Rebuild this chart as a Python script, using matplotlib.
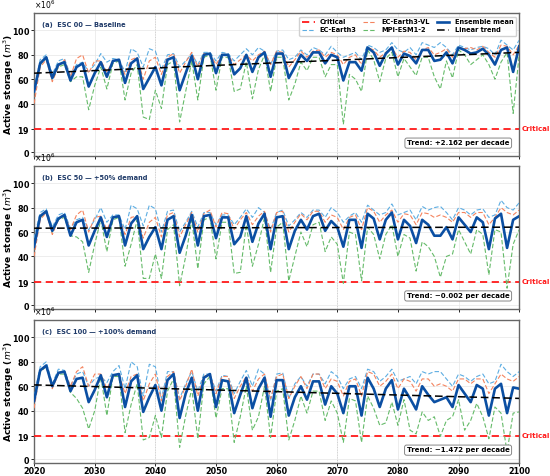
import numpy as np
import matplotlib
matplotlib.use("Agg")
import matplotlib.pyplot as plt
import matplotlib.transforms as mtransforms

years = np.arange(2020, 2101)
critical = 19  # x10^6 m3

# ---- (a) ESC 00 baseline ----
ens_a = [50, 73, 78, 61, 72, 74, 59, 70, 73, 54,
         65, 74, 62, 75, 76, 57, 73, 77, 52, 61,
         70, 55, 76, 78, 51, 65, 79, 60, 80, 81,
         65, 80, 80, 64, 69, 80, 66, 78, 82, 62,
         81, 81, 61, 70, 80, 75, 82, 82, 73, 80,
         78, 59, 74, 74, 67, 86, 82, 71, 81, 86,
         72, 81, 79, 73, 84, 84, 75, 76, 82, 73,
         86, 84, 81, 82, 85, 80, 72, 84, 86, 66,
         87]
ec3_a = [52, 76, 80, 64, 75, 77, 63, 72, 74, 66,
         72, 81, 74, 77, 76, 66, 85, 82, 70, 85,
         83, 68, 80, 81, 70, 75, 81, 72, 82, 82,
         75, 82, 81, 75, 80, 85, 80, 86, 83, 72,
         83, 84, 76, 78, 84, 80, 86, 84, 80, 87,
         82, 78, 80, 82, 76, 88, 86, 82, 84, 90,
         84, 82, 86, 80, 90, 88, 86, 90, 86, 80,
         88, 86, 84, 86, 87, 85, 80, 92, 88, 84,
         92]
ecvl_a = [40, 70, 76, 58, 70, 76, 62, 77, 80, 65,
          75, 75, 66, 75, 75, 64, 76, 78, 60, 75,
          78, 64, 78, 81, 65, 74, 82, 70, 81, 81,
          72, 80, 80, 72, 76, 80, 75, 80, 83, 72,
          83, 82, 70, 76, 83, 78, 83, 84, 78, 82,
          80, 72, 78, 80, 72, 86, 84, 78, 82, 86,
          78, 83, 82, 76, 84, 86, 80, 82, 85, 78,
          86, 85, 86, 84, 87, 82, 78, 88, 87, 80,
          88]
mpi_a = [50, 72, 77, 60, 70, 72, 58, 62, 62, 35,
         55, 70, 52, 73, 75, 43, 65, 72, 29, 27,
         51, 36, 72, 75, 25, 50, 75, 43, 78, 80,
         51, 78, 78, 50, 52, 74, 44, 68, 80, 50,
         78, 78, 43, 56, 74, 67, 78, 78, 62, 72,
         72, 23, 64, 60, 50, 84, 76, 58, 77, 82,
         62, 77, 70, 63, 78, 78, 62, 52, 75, 61,
         84, 80, 72, 76, 80, 72, 60, 74, 82, 32,
         80]

# ---- (b) ESC 50 +50% demand ----
ens_b = [48, 73, 77, 61, 71, 74, 57, 68, 70, 49,
         61, 72, 56, 72, 73, 49, 67, 73, 46, 56,
         64, 46, 70, 73, 43, 57, 74, 49, 73, 74,
         55, 72, 72, 50, 56, 73, 52, 67, 75, 46,
         72, 73, 46, 61, 70, 62, 73, 75, 61, 69,
         64, 48, 70, 70, 47, 75, 71, 54, 70, 76,
         54, 70, 65, 51, 70, 66, 57, 57, 64, 54,
         72, 66, 60, 72, 68, 46, 71, 75, 47, 70,
         73]
ec3_b = [55, 76, 79, 64, 74, 76, 63, 70, 72, 62,
         70, 80, 68, 74, 74, 62, 82, 79, 65, 82,
         79, 60, 77, 78, 60, 68, 77, 64, 76, 76,
         66, 74, 74, 66, 72, 79, 72, 80, 76, 62,
         76, 78, 65, 70, 76, 72, 78, 78, 72, 80,
         76, 68, 73, 76, 68, 82, 78, 74, 76, 83,
         74, 76, 78, 70, 81, 78, 80, 81, 76, 70,
         80, 78, 74, 78, 79, 72, 74, 86, 80, 78,
         84]
ecvl_b = [40, 70, 76, 58, 70, 74, 62, 74, 78, 60,
          72, 73, 62, 72, 72, 58, 72, 73, 55, 68,
          72, 56, 74, 76, 56, 66, 76, 60, 75, 78,
          64, 76, 75, 62, 70, 76, 66, 73, 77, 60,
          76, 77, 60, 68, 75, 70, 77, 77, 68, 74,
          72, 62, 72, 74, 62, 80, 77, 68, 74, 78,
          68, 75, 74, 66, 76, 75, 72, 74, 72, 68,
          76, 76, 72, 76, 76, 66, 72, 80, 76, 74,
          78]
mpi_b = [50, 72, 76, 60, 70, 72, 57, 56, 52, 27,
         50, 70, 44, 70, 72, 32, 50, 70, 22, 22,
         42, 22, 62, 66, 16, 40, 70, 30, 70, 72,
         38, 68, 68, 26, 27, 66, 32, 50, 72, 27,
         64, 68, 20, 40, 60, 48, 66, 68, 44, 56,
         50, 18, 60, 58, 20, 64, 58, 38, 58, 66,
         40, 58, 55, 28, 52, 48, 40, 23, 40, 42,
         62, 52, 42, 62, 58, 25, 62, 60, 14, 50,
         62]

# ---- (c) ESC 100 +100% demand ----
ens_c = [48, 73, 77, 60, 71, 72, 56, 66, 67, 47,
         57, 69, 51, 69, 70, 43, 64, 69, 39, 51,
         61, 40, 65, 70, 34, 54, 67, 40, 67, 70,
         43, 65, 64, 38, 53, 67, 42, 58, 67, 35,
         65, 65, 36, 51, 60, 49, 64, 64, 45, 60,
         54, 38, 60, 60, 36, 67, 58, 43, 58, 65,
         41, 58, 50, 41, 60, 53, 47, 49, 51, 43,
         61, 54, 47, 61, 58, 36, 58, 62, 38, 59,
         58]
ec3_c = [52, 76, 80, 62, 74, 73, 60, 70, 72, 60,
         66, 68, 63, 72, 77, 58, 80, 76, 52, 78,
         76, 50, 72, 72, 50, 62, 72, 56, 70, 70,
         56, 69, 68, 54, 64, 73, 60, 74, 70, 48,
         70, 71, 50, 62, 68, 60, 70, 70, 62, 72,
         68, 58, 66, 68, 58, 74, 72, 64, 68, 74,
         64, 66, 68, 62, 72, 70, 72, 72, 66, 60,
         70, 68, 64, 68, 70, 62, 64, 78, 72, 68,
         72]
ecvl_c = [42, 72, 76, 58, 70, 72, 60, 72, 76, 60,
          70, 70, 58, 68, 70, 54, 68, 70, 48, 62,
          70, 48, 68, 72, 48, 60, 74, 52, 68, 70,
          54, 68, 68, 50, 60, 68, 56, 66, 70, 50,
          68, 70, 50, 60, 68, 58, 70, 70, 58, 66,
          64, 52, 64, 66, 52, 72, 70, 60, 64, 70,
          58, 66, 64, 56, 66, 66, 60, 62, 60, 56,
          66, 66, 62, 66, 66, 54, 62, 70, 66, 64,
          68]
mpi_c = [48, 72, 76, 60, 70, 70, 55, 50, 42, 25,
         40, 68, 36, 68, 68, 22, 45, 62, 16, 18,
         36, 18, 56, 66, 10, 36, 58, 17, 62, 68,
         34, 58, 58, 14, 35, 60, 24, 35, 60, 18,
         56, 58, 16, 32, 52, 38, 56, 56, 32, 48,
         38, 14, 50, 48, 14, 52, 42, 28, 30, 47,
         28, 49, 24, 21, 39, 32, 35, 19, 32, 35,
         49, 24, 32, 46, 35, 17, 43, 38, 6, 38,
         39]

titles = ["(a)  ESC 00 \u2014 Baseline",
          "(b)  ESC 50 \u2014 +50% demand",
          "(c)  ESC 100 \u2014 +100% demand"]
trend_labels = ["Trend: +2.162 per decade",
                "Trend: \u22120.002 per decade",
                "Trend: \u22121.472 per decade"]

panels = [
    dict(ec3=ec3_a, ecvl=ecvl_a, mpi=mpi_a, ens=ens_a),
    dict(ec3=ec3_b, ecvl=ecvl_b, mpi=mpi_b, ens=ens_b),
    dict(ec3=ec3_c, ecvl=ecvl_c, mpi=mpi_c, ens=ens_c),
]

c_ec3 = '#5dade2'
c_ecvl = '#f4845f'
c_mpi = '#66bb6a'
c_ens = '#0b4fa3'
c_crit = '#ff1a1a'
c_title = '#1f3a68'

plt.rcParams['font.family'] = 'DejaVu Sans'

fig = plt.figure(figsize=(5.5, 4.76), dpi=100)
lefts, width, height = 0.062, 0.882, 0.300
bottoms = [0.672, 0.351, 0.027]

scale = 1e6
axes = []
for i, p in enumerate(panels):
    ax = fig.add_axes([lefts, bottoms[i], width, height])
    axes.append(ax)

    ax.axvline(2040, color='#999999', ls=':', lw=0.7, zorder=1)
    ax.axvline(2070, color='#999999', ls=':', lw=0.7, zorder=1)
    ax.grid(True, color='#e6e6e6', lw=0.5, zorder=0)

    crit_line = ax.axhline(critical * scale, color=c_crit, ls=(0, (4, 2.5)), lw=1.3,
                           zorder=3, label='Critical')
    l1, = ax.plot(years, np.array(p['ec3']) * scale, color=c_ec3, ls=(0, (4, 2)), lw=0.8,
                  zorder=4, label='EC-Earth3')
    l2, = ax.plot(years, np.array(p['ecvl']) * scale, color=c_ecvl, ls=(0, (4, 2)), lw=0.8,
                  zorder=4, label='EC-Earth3-VL')
    l3, = ax.plot(years, np.array(p['mpi']) * scale, color=c_mpi, ls=(0, (4, 2)), lw=0.8,
                  zorder=4, label='MPI-ESM1-2')
    ens = np.array(p['ens']) * scale
    l4, = ax.plot(years, ens, color=c_ens, lw=1.9, zorder=6, label='Ensemble mean')
    coef = np.polyfit(years, ens, 1)
    l5, = ax.plot(years, np.polyval(coef, years), color='black', ls=(0, (5, 2.5)), lw=1.1,
                  zorder=7, label='Linear trend')

    ax.set_xlim(2020, 2100)
    ax.set_ylim(-3 * scale, 114 * scale)
    ax.set_yticks([0, 19 * scale, 40 * scale, 60 * scale, 80 * scale, 100 * scale])
    ax.ticklabel_format(axis='y', style='sci', scilimits=(6, 6), useMathText=True)
    ax.yaxis.get_offset_text().set_fontsize(5.5)
    ax.set_xticks(np.arange(2020, 2101, 10))
    ax.tick_params(labelsize=5.8, length=2, width=0.6, pad=1)
    for lab in ax.get_yticklabels() + ax.get_xticklabels():
        lab.set_fontweight('bold')
    if i < 2:
        ax.tick_params(labelbottom=False)
    ax.set_ylabel('Active storage ($m^3$)', fontsize=6.6, fontweight='bold')
    ax.yaxis.set_label_coords(-0.038, 0.5)

    for s in ax.spines.values():
        s.set_color('#666666')
        s.set_linewidth(1.0)

    ax.text(0.017, 0.94, titles[i], transform=ax.transAxes, fontsize=4.8, fontweight='bold',
            color=c_title, va='top', ha='left')

    trans = mtransforms.blended_transform_factory(ax.transAxes, ax.transData)
    ax.text(1.006, critical * scale, 'Critical', transform=trans, color=c_crit,
            fontsize=5, fontweight='bold', va='center', ha='left', clip_on=False)

    ax.text(0.98, 0.07, trend_labels[i], transform=ax.transAxes, fontsize=5,
            fontweight='bold', ha='right', va='bottom',
            bbox=dict(boxstyle='round,pad=0.3', fc='white', ec='#888888', lw=0.7), zorder=10)

    if i == 0:
        ax.legend(handles=[crit_line, l1, l2, l3, l4, l5], ncol=3, loc='upper right',
                  prop={'weight': 'bold', 'size': 4.8}, frameon=True,
                  framealpha=0.9, edgecolor='#cccccc', handlelength=1.9,
                  columnspacing=1.0, borderpad=0.4, labelspacing=0.3)

fig.savefig('out.png', dpi=100)
